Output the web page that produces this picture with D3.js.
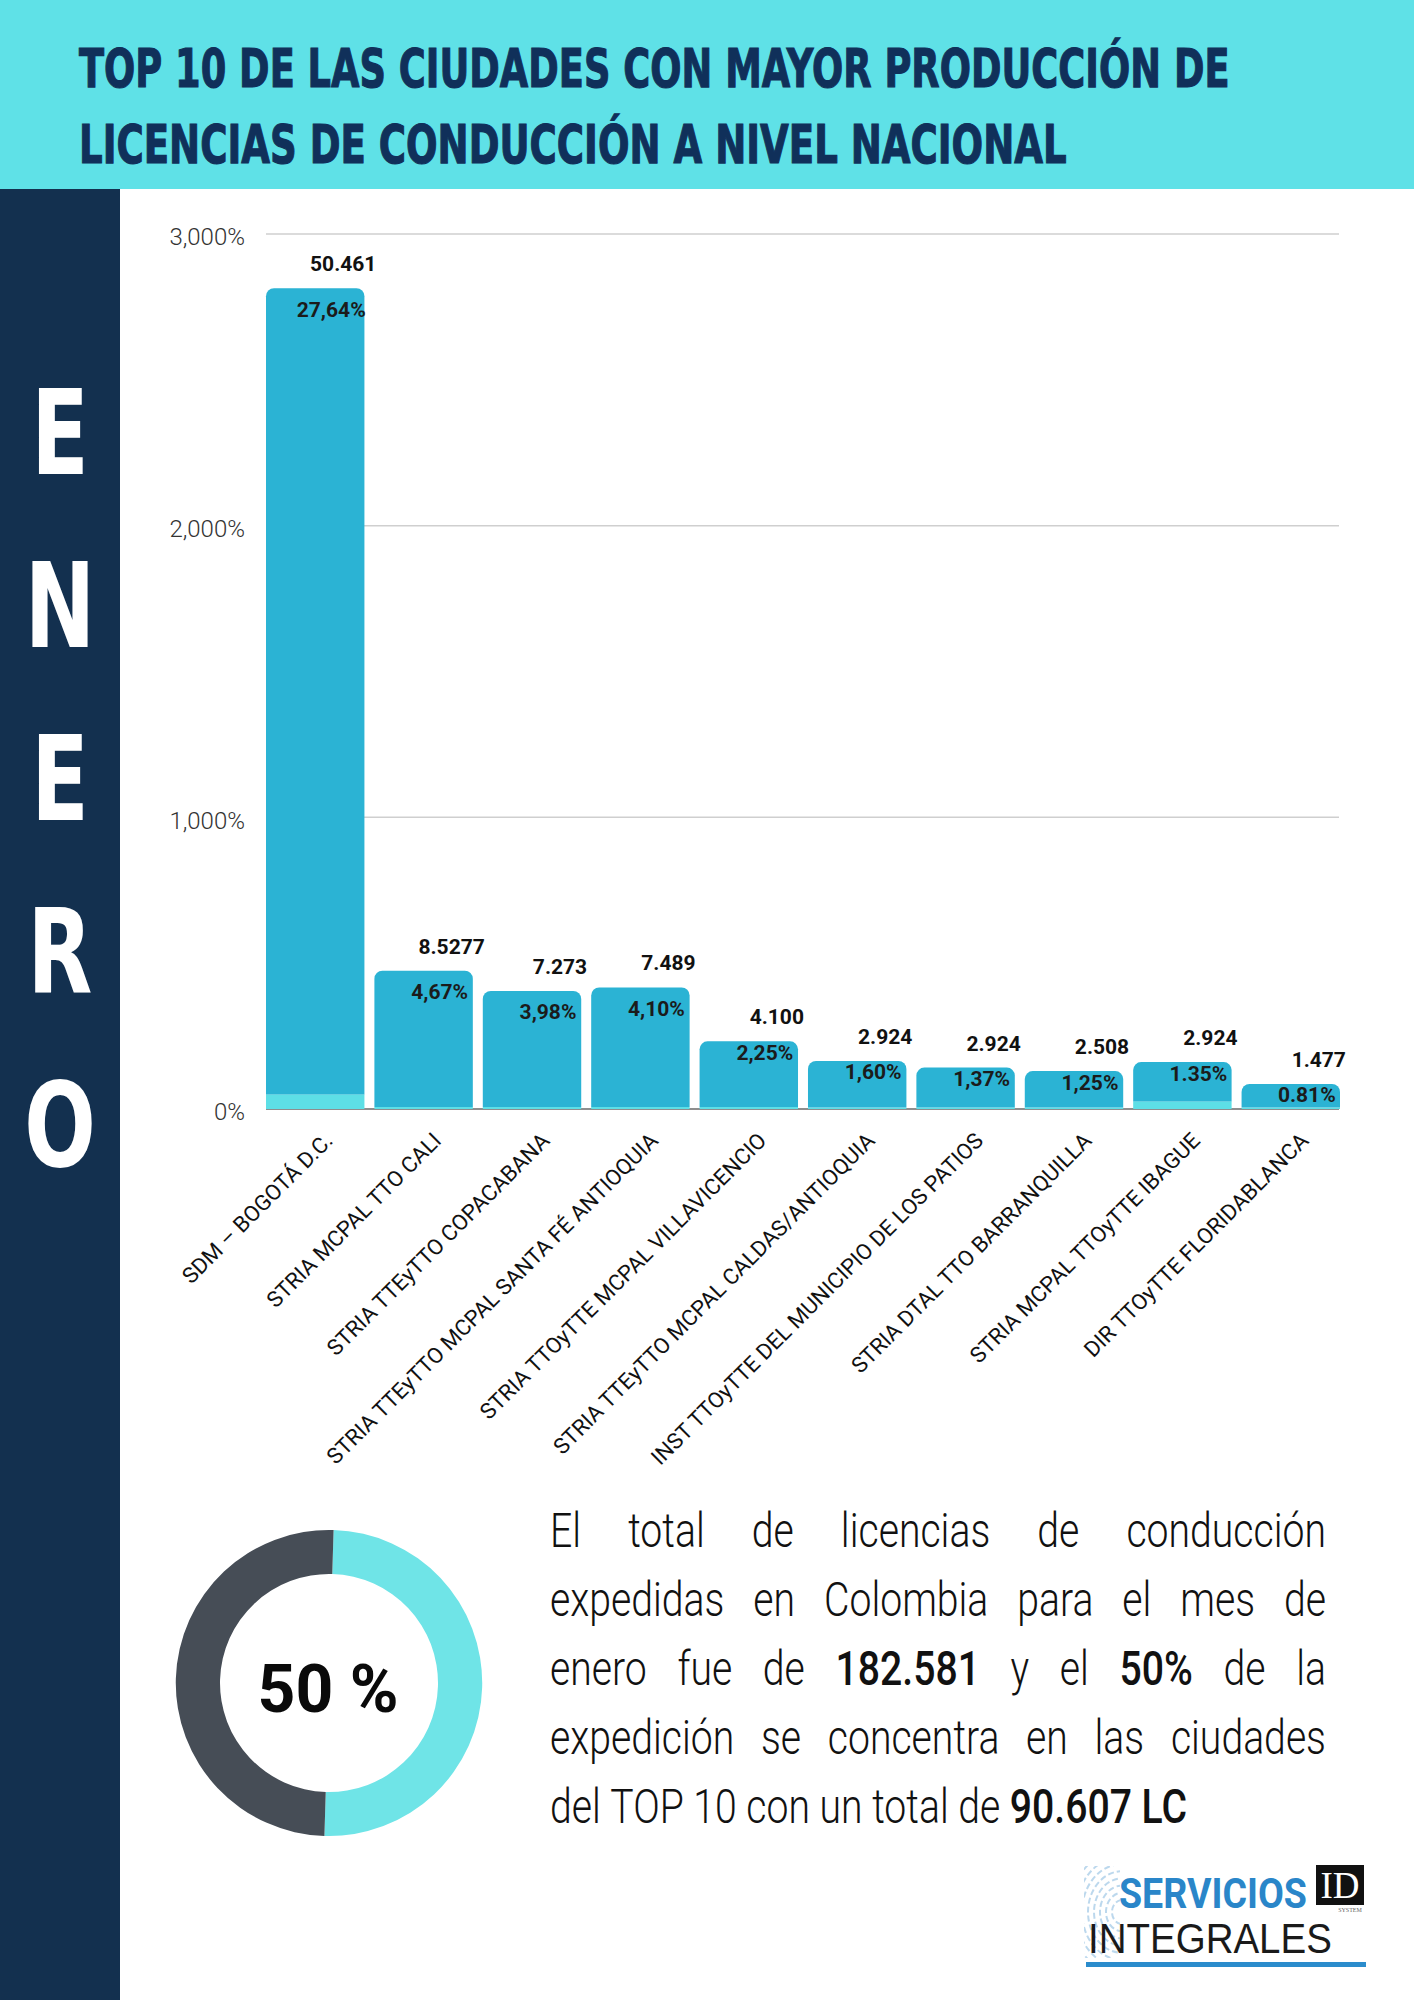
<!DOCTYPE html>
<html lang="es">
<head>
<meta charset="utf-8">
<title>Top 10 licencias de conducción - enero</title>
<script src="https://cdn.jsdelivr.net/npm/d3@7"></script>
<style>
  body { margin: 0; background: #fff; }
  svg { display: block; }
</style>
</head>
<body>
<script>
// datos del mes
var ciudades = [
  "SDM – BOGOTÁ D.C.",
  "STRIA MCPAL TTO CALI",
  "STRIA TTEyTTO COPACABANA",
  "STRIA TTEyTTO MCPAL SANTA FÉ ANTIOQUIA",
  "STRIA TTOyTTE MCPAL VILLAVICENCIO",
  "STRIA TTEyTTO MCPAL CALDAS/ANTIOQUIA",
  "INST TTOyTTE DEL MUNICIPIO DE LOS PATIOS",
  "STRIA DTAL TTO BARRANQUILLA",
  "STRIA MCPAL TTOyTTE IBAGUE",
  "DIR TTOyTTE FLORIDABLANCA"
];
var porcentajes = [27.64, 4.67, 3.98, 4.10, 2.25, 1.60, 1.37, 1.25, 1.35, 0.81];
var segmentoBase = [0.50, 0.07, 0.07, 0.07, 0.07, 0.05, 0.05, 0.05, 0.26, 0.05];
var etiquetasPct = ["27,64%", "4,67%", "3,98%", "4,10%", "2,25%", "1,60%", "1,37%", "1,25%", "1.35%", "0.81%"];
var licencias = ["50.461", "8.5277", "7.273", "7.489", "4.100", "2.924", "2.924", "2.508", "2.924", "1.477"];
var yTicks = [0, 10, 20, 30];
var dona = [50, 50];
var mes = ["E", "N", "E", "R", "O"];
var titulo = [
  "TOP 10 DE LAS CIUDADES CON MAYOR PRODUCCIÓN DE",
  "LICENCIAS DE CONDUCCIÓN A NIVEL NACIONAL"
];
var parrafo = [
  "El total de licencias de conducción",
  "expedidas en Colombia para el mes de",
  "enero fue de 182.581 y el 50% de la",
  "expedición se concentra en las ciudades",
  "del TOP 10 con un total de 90.607 LC"
];
var negritas = ["182.581", "50%", "90.607", "LC"];

var w = 1414;
var h = 2000;

// squeeze a text horizontally so it fills a given width
function ajustar(sel, x, y, ancho) {
  var natural = sel.node().getComputedTextLength();
  sel.attr("transform", "translate(" + x + "," + y + ") scale(" + (ancho / natural) + ",1)");
  return sel;
}

function draw() {
  var svg = d3.select("body").append("svg")
    .attr("width", w)
    .attr("height", h);

  // header and sidebar
  svg.append("rect").attr("x", 0).attr("y", 0).attr("width", w).attr("height", 189).attr("fill", "#5fe1e7");
  svg.append("rect").attr("x", 0).attr("y", 189).attr("width", 120).attr("height", h - 189).attr("fill", "#13304f");

  var tituloLargo = [1151, 988];
  titulo.forEach(function(t, i) {
    var txt = svg.append("text")
      .attr("font-family", "DejaVu Sans")
      .attr("font-weight", "bold")
      .attr("font-size", 54)
      .attr("fill", "#10305a")
      .attr("stroke", "#10305a")
      .attr("stroke-width", 1.2)
      .text(t);
    ajustar(txt, 79, 87 + i * 76, tituloLargo[i]);
  });

  svg.selectAll(".mes")
    .data(mes)
    .enter()
    .append("text")
    .attr("class", "mes")
    .attr("transform", function(d, i) { return "translate(60," + (474 + i * 173) + ") scale(0.72,1)"; })
    .attr("text-anchor", "middle")
    .attr("font-family", "DejaVu Sans")
    .attr("font-weight", "bold")
    .attr("font-size", 117)
    .attr("fill", "#ffffff")
    .text(function(d) { return d; });

  // scales
  var xScale = d3.scaleBand()
    .domain(ciudades)
    .range([266, 1340])
    .paddingInner(0.092)
    .paddingOuter(0);

  var yScale = d3.scaleLinear()
    .domain([0, 30])
    .range([1109, 234]);

  // gridlines
  svg.selectAll(".grid")
    .data(yTicks)
    .enter()
    .append("line")
    .attr("class", "grid")
    .attr("x1", 266)
    .attr("x2", 1339)
    .attr("y1", function(d) { return yScale(d); })
    .attr("y2", function(d) { return yScale(d); })
    .attr("stroke", function(d) { return d == 0 ? "#8e8e8e" : "#cfcfcf"; })
    .attr("stroke-width", function(d) { return d == 0 ? 2 : 1.5; });

  // y axis
  var yAxis = d3.axisLeft(yScale)
    .tickValues(yTicks)
    .tickSize(0)
    .tickPadding(0)
    .tickFormat(function(d) { return d3.format(",")(d * 100) + "%"; });

  var gy = svg.append("g")
    .attr("transform", "translate(245,0)")
    .call(yAxis);
  gy.select(".domain").remove();
  gy.selectAll("text")
    .attr("dy", "0.45em")
    .attr("font-family", "Roboto")
    .attr("font-weight", 300)
    .attr("font-size", 24)
    .attr("fill", "#333");

  // stacked bars
  var tabla = ciudades.map(function(c, i) {
    return { ciudad: c, base: segmentoBase[i], pct: porcentajes[i] };
  });
  var series = d3.stack().keys(["base", "pct"])(tabla);

  function barraRedonda(x0, bw, yTop, yBot, r) {
    r = Math.min(r, yBot - yTop);
    return "M" + x0 + "," + yBot +
      "V" + (yTop + r) +
      "A" + r + "," + r + " 0 0 1 " + (x0 + r) + "," + yTop +
      "H" + (x0 + bw - r) +
      "A" + r + "," + r + " 0 0 1 " + (x0 + bw) + "," + (yTop + r) +
      "V" + yBot + "Z";
  }

  svg.selectAll(".base")
    .data(series[0])
    .enter()
    .append("rect")
    .attr("class", "base")
    .attr("x", function(d) { return xScale(d.data.ciudad); })
    .attr("y", function(d) { return yScale(d[1]); })
    .attr("width", xScale.bandwidth())
    .attr("height", function(d) { return yScale(d[0]) - yScale(d[1]); })
    .attr("fill", "#5ddfe6");

  svg.selectAll(".main")
    .data(series[1])
    .enter()
    .append("path")
    .attr("class", "main")
    .attr("d", function(d) {
      return barraRedonda(xScale(d.data.ciudad), xScale.bandwidth(), yScale(d[1]), yScale(d[0]), 8);
    })
    .attr("fill", "#2bb3d4");

  // labels on bars
  var cx = function(i) { return xScale(ciudades[i]) + xScale.bandwidth() / 2; };
  var top = function(i) { return yScale(porcentajes[i] + segmentoBase[i]); };

  svg.selectAll(".cuenta")
    .data(licencias)
    .enter()
    .append("text")
    .attr("class", "cuenta")
    .attr("x", function(d, i) { return cx(i) + 28; })
    .attr("y", function(d, i) { return top(i) - 17; })
    .attr("text-anchor", "middle")
    .attr("font-family", "Roboto")
    .attr("font-weight", "bold")
    .attr("font-size", 21)
    .attr("fill", "#111")
    .text(function(d) { return d; });

  svg.selectAll(".pct")
    .data(etiquetasPct)
    .enter()
    .append("text")
    .attr("class", "pct")
    .attr("x", function(d, i) { return cx(i) + 16; })
    .attr("y", function(d, i) {
      var alto = yScale(0) - top(i);
      return top(i) + (alto > 100 ? 21 : 11) + 7.5;
    })
    .attr("text-anchor", "middle")
    .attr("font-family", "Roboto")
    .attr("font-weight", "bold")
    .attr("font-size", 21)
    .attr("fill", "#1b1b1b")
    .text(function(d) { return d; });

  // x axis, rotated labels
  var gx = svg.append("g")
    .attr("transform", "translate(0," + yScale(0) + ")")
    .call(d3.axisBottom(xScale).tickSize(0));
  gx.select(".domain").remove();
  gx.selectAll("text")
    .attr("x", 0)
    .attr("y", 0)
    .attr("dy", 0)
    .attr("transform", "translate(19,33) rotate(-45)")
    .attr("text-anchor", "end")
    .attr("font-family", "Roboto")
    .attr("font-size", 22)
    .attr("fill", "#111");

  // donut
  var pie = d3.pie().sort(null).startAngle(0.03).endAngle(0.03 + 2 * Math.PI);
  var arc = d3.arc().innerRadius(109).outerRadius(153);
  var coloresDona = ["#6fe4e7", "#464d56"];
  svg.append("g")
    .attr("transform", "translate(329,1683)")
    .selectAll("path")
    .data(pie(dona))
    .enter()
    .append("path")
    .attr("d", arc)
    .attr("fill", function(d, i) { return coloresDona[i]; });

  svg.append("text")
    .attr("x", 328)
    .attr("y", 1712)
    .attr("text-anchor", "middle")
    .attr("font-family", "Roboto")
    .attr("font-weight", "bold")
    .attr("font-size", 66)
    .attr("fill", "#0a0a0a")
    .text(dona[0] + " %");

  // justified paragraph
  var px0 = 550, anchoPar = 776, baseY = 1547, interlinea = 69;
  var fs = 49;
  var medir = svg.append("g").attr("opacity", 0);
  function anchoPalabra(p) {
    var t = medir.append("text")
      .attr("font-family", "Roboto")
      .attr("font-weight", negritas.indexOf(p) >= 0 ? 500 : 300)
      .attr("font-size", fs)
      .text(p);
    var a = t.node().getComputedTextLength();
    t.remove();
    return a;
  }
  var espacio = (function() {
    var t = medir.append("text").attr("font-family", "Roboto").attr("font-weight", 300).attr("font-size", fs).text("a a");
    var t2 = medir.append("text").attr("font-family", "Roboto").attr("font-weight", 300).attr("font-size", fs).text("aa");
    var e = t.node().getComputedTextLength() - t2.node().getComputedTextLength();
    t.remove(); t2.remove();
    return e;
  })();

  var lineas = parrafo.map(function(l) {
    var palabras = l.split(" ");
    return palabras.map(function(p) { return { p: p, a: anchoPalabra(p) }; });
  });
  var ultima = lineas[lineas.length - 1];
  var natural = d3.sum(ultima, function(d) { return d.a; }) + espacio * (ultima.length - 1);
  var sx = 637 / natural;

  lineas.forEach(function(pal, li) {
    var suma = d3.sum(pal, function(d) { return d.a * sx; });
    var hueco = li < lineas.length - 1 ? (anchoPar - suma) / (pal.length - 1) : espacio * sx;
    var xx = px0;
    pal.forEach(function(d) {
      svg.append("text")
        .attr("transform", "translate(" + xx + "," + (baseY + li * interlinea) + ") scale(" + sx + ",1)")
        .attr("font-family", "Roboto")
        .attr("font-weight", negritas.indexOf(d.p) >= 0 ? 500 : 300)
        .attr("font-size", fs)
        .attr("fill", "#111")
        .text(d.p);
      xx += d.a * sx + hueco;
    });
  });
  medir.remove();

  // logo
  var logo = svg.append("g");
  var huella = logo.append("clipPath").attr("id", "huella");
  huella.append("rect").attr("x", 1084).attr("y", 1866).attr("width", 36).attr("height", 92);
  var anillos = logo.append("g").attr("clip-path", "url(#huella)");
  [10, 16, 22, 28, 34, 40, 46, 52].forEach(function(r) {
    anillos.append("ellipse")
      .attr("cx", 1122).attr("cy", 1912)
      .attr("rx", r).attr("ry", r * 1.2)
      .attr("fill", "none")
      .attr("stroke", "#9fc8e6")
      .attr("stroke-width", 2)
      .attr("stroke-dasharray", "6,3")
      .attr("opacity", 0.7);
  });
  var servicios = logo.append("text")
    .attr("font-family", "Roboto").attr("font-weight", "bold").attr("font-size", 42)
    .attr("fill", "#2a86c9")
    .text("SERVICIOS");
  ajustar(servicios, 1119, 1908, 188);
  logo.append("rect")
    .attr("x", 1316).attr("y", 1865).attr("width", 48).attr("height", 40)
    .attr("fill", "#111");
  logo.append("text")
    .attr("x", 1340).attr("y", 1898)
    .attr("text-anchor", "middle")
    .attr("font-family", "Liberation Serif").attr("font-size", 37)
    .attr("fill", "#fff")
    .text("ID");
  logo.append("text")
    .attr("x", 1350).attr("y", 1912)
    .attr("text-anchor", "middle")
    .attr("font-family", "Liberation Serif").attr("font-size", 6)
    .attr("fill", "#666")
    .text("SYSTEM");
  var integrales = logo.append("text")
    .attr("font-family", "Liberation Sans").attr("font-size", 43)
    .attr("fill", "#1a1a1a")
    .text("INTEGRALES");
  ajustar(integrales, 1088, 1953, 244);
  logo.append("rect")
    .attr("x", 1086).attr("y", 1962).attr("width", 280).attr("height", 5)
    .attr("fill", "#2b8ccc");
}

if (document.fonts && document.fonts.ready) {
  document.fonts.ready.then(draw);
} else {
  draw();
}
</script>
</body>
</html>
